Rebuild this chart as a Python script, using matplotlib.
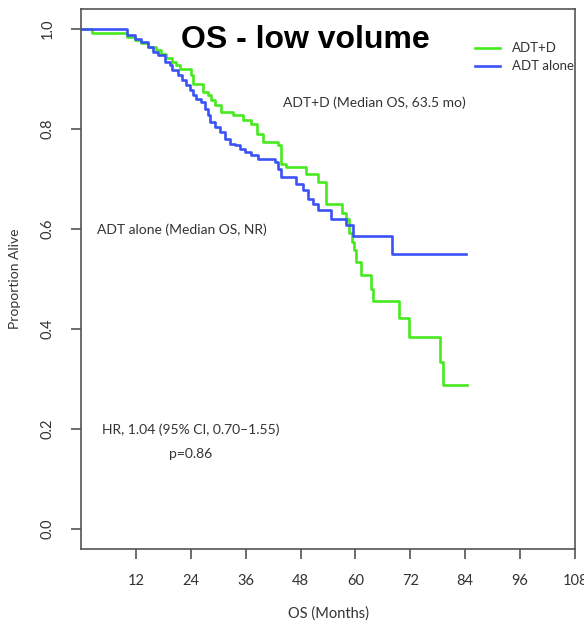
import matplotlib
matplotlib.use('Agg')
import matplotlib.pyplot as plt

# Kaplan-Meier steps (months, survival after drop)
adt_d_time = [0, 2.5, 10.0, 11.8, 13.2, 14.7, 16.5, 17.5, 18.6, 19.8, 20.8, 21.6,
              24.1, 24.5, 26.7, 27.8, 28.5, 29.2, 30.7, 33.2, 35.4, 37.2, 38.4,
              39.8, 43.0, 43.8, 44.8, 49.2, 51.8, 53.6, 57.0, 57.9, 58.5, 59.2,
              59.7, 60.2, 61.2, 63.4, 63.8, 69.6, 71.8, 78.5, 79.2, 84.4]
adt_d_surv = [1.0, 0.993, 0.985, 0.978, 0.972, 0.965, 0.958, 0.950, 0.942, 0.935,
              0.928, 0.921, 0.908, 0.891, 0.875, 0.868, 0.858, 0.848, 0.835, 0.828,
              0.818, 0.810, 0.790, 0.775, 0.768, 0.731, 0.725, 0.711, 0.695, 0.650,
              0.632, 0.620, 0.592, 0.575, 0.558, 0.535, 0.508, 0.481, 0.456, 0.423,
              0.385, 0.335, 0.288, 0.288]

adt_time = [0, 10.0, 11.8, 13.2, 14.7, 15.7, 16.8, 18.3, 19.4, 19.8, 21.2, 22.0,
            23.0, 23.8, 24.5, 25.2, 26.3, 27.0, 27.8, 28.1, 29.2, 30.3, 31.4,
            32.5, 33.6, 34.7, 35.8, 37.2, 38.6, 42.5, 43.1, 43.8, 47.1, 48.5,
            49.6, 50.7, 51.8, 54.7, 58.0, 59.4, 68.0, 84.1]
adt_surv = [1.0, 0.988, 0.981, 0.975, 0.965, 0.955, 0.948, 0.935, 0.928, 0.918,
            0.908, 0.898, 0.888, 0.878, 0.868, 0.861, 0.855, 0.841, 0.828, 0.815,
            0.805, 0.795, 0.781, 0.771, 0.768, 0.761, 0.755, 0.748, 0.741, 0.735,
            0.721, 0.705, 0.691, 0.678, 0.661, 0.651, 0.638, 0.621, 0.608, 0.586,
            0.551, 0.551]

x_ticks = [12, 24, 36, 48, 60, 72, 84, 96, 108]
y_ticks = [0.0, 0.2, 0.4, 0.6, 0.8, 1.0]

GREEN = '#46ea1e'
BLUE = '#3b52f6'
TXT = '#333333'

plt.rcParams['font.family'] = ['Lato', 'DejaVu Sans']

fig = plt.figure(figsize=(5.84, 6.21), dpi=100)
ax = fig.add_axes([81/584, 72/621, 494/584, 540/621])

ax.plot(adt_d_time, adt_d_surv, drawstyle='steps-post', color=GREEN, lw=1.9, label='ADT+D')
ax.plot(adt_time, adt_surv, drawstyle='steps-post', color=BLUE, lw=1.9, label='ADT alone')

ax.set_xlim(0, 108)
ax.set_ylim(-0.04, 1.04)
ax.set_xticks(x_ticks)
ax.set_xticklabels([str(t) for t in x_ticks])
ax.set_yticks(y_ticks)
ax.set_yticklabels([f'{v:.1f}' for v in y_ticks], rotation=90, va='center')
ax.tick_params(length=7, width=1.1, color='#444444', labelcolor=TXT, labelsize=10.5)
ax.tick_params(axis='x', pad=11)
ax.tick_params(axis='y', pad=12)
for sp in ax.spines.values():
    sp.set_color('#555555')
    sp.set_linewidth(1.2)

ax.set_ylabel('Proportion Alive', fontsize=10, color=TXT, labelpad=14)
ax.set_xlabel('OS (Months)', fontsize=10.5, color=TXT, labelpad=13)

ax.text(0.455, 0.943, 'OS - low volume', transform=ax.transAxes, ha='center', va='center',
        fontsize=23, fontweight='bold', family=['Liberation Sans', 'DejaVu Sans'])

ax.text(44.1, 0.852, 'ADT+D (Median OS, 63.5 mo)', fontsize=10, color=TXT, va='center')
ax.text(3.5, 0.598, 'ADT alone (Median OS, NR)', fontsize=10, color=TXT, va='center')
ax.text(24, 0.198, 'HR, 1.04 (95% CI, 0.70\u20131.55)', fontsize=10, color=TXT,
        ha='center', va='center')
ax.text(24, 0.150, 'p=0.86', fontsize=10, color=TXT, ha='center', va='center')

leg = ax.legend(loc='upper left', bbox_to_anchor=(0.797, 0.938), frameon=False,
                fontsize=9.5, handlelength=1.9, handletextpad=0.9, labelspacing=0.45,
                borderpad=0, borderaxespad=0)
for t in leg.get_texts():
    t.set_color(TXT)

fig.savefig('out.png', dpi=100)
